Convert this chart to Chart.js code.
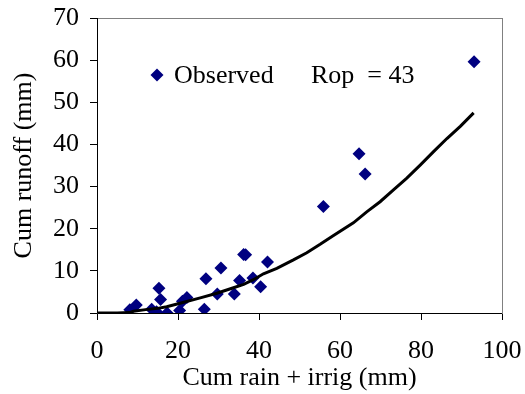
<!DOCTYPE html>
<html>
<head>
<meta charset="utf-8">
<script src="https://cdn.jsdelivr.net/npm/chart.js@4/dist/chart.umd.min.js"></script>
<style>
  html, body { margin: 0; padding: 0; background: #fff; }
  #wrap { width: 525px; height: 394px; }
</style>
</head>
<body>
<div id="wrap"><canvas id="graph_runoff" width="525" height="394"></canvas></div>
<script>
// observed : cum rain + irrig (mm) / cum runoff (mm)
const obsX = [8.1, 9.7, 13.5, 14.7, 15.3, 15.7, 17.3, 20.4, 21.1, 22.2, 26.5, 26.9, 29.7, 30.6, 33.9, 35.2, 36.2, 36.7, 38.5, 40.4, 42.1, 55.9, 64.7, 66.2, 93.1];
const obsY = [0.8, 1.9, 0.9, 0.3, 5.9, 3.2, 0.0, 0.6, 2.8, 3.7, 0.9, 8.1, 4.5, 10.7, 4.5, 7.7, 13.9, 13.8, 8.3, 6.2, 12.1, 25.3, 37.8, 33.0, 59.6];

// model curve (Rop = 43)
const modelX = [0, 5, 8, 9, 12, 15, 17.2, 20.5, 25.5, 29.6, 33.7, 36.2, 38.6, 41.1, 44.4, 48.5, 51.8, 55.1, 58.4, 63.3, 66.6, 69.9, 73.2, 76.5, 79.8, 83.1, 86.4, 89.7, 93.0];
const modelY = [0, 0, 0.1, 0.4, 0.8, 1.1, 1.5, 2.3, 3.6, 4.7, 6.0, 6.8, 7.9, 9.3, 10.6, 12.6, 14.3, 16.3, 18.4, 21.4, 24.0, 26.4, 29.2, 32.0, 35.1, 38.3, 41.4, 44.3, 47.5];

const xTicks = [0, 20, 40, 60, 80, 100];
const yTicks = [0, 10, 20, 30, 40, 50, 60, 70];

const serif = "'Liberation Serif', 'Times New Roman', serif";
const fontSize = 26;

const frame = {
    id: 'frame',
    afterDraw(chart) {
        const c = chart.ctx;
        const a = chart.chartArea;
        c.save();
        c.strokeStyle = '#808080';
        c.lineWidth = 1;
        c.strokeRect(a.left + 0.5, a.top + 0.5, a.right - a.left, a.bottom - a.top);
        c.strokeStyle = '#000';
        c.beginPath();
        c.moveTo(a.left + 0.5, a.top);
        c.lineTo(a.left + 0.5, a.bottom + 0.5);
        c.lineTo(a.right, a.bottom + 0.5);
        c.stroke();

        // legend inside plot
        c.fillStyle = '#000080';
        const lx = 157, ly = 75, r = 6.5;
        c.beginPath();
        c.moveTo(lx, ly - r);
        c.lineTo(lx + r, ly);
        c.lineTo(lx, ly + r);
        c.lineTo(lx - r, ly);
        c.closePath();
        c.fill();
        c.fillStyle = '#000';
        c.font = fontSize + 'px ' + serif;
        c.textBaseline = 'middle';
        c.fillText('Observed', 174, 76);
        c.fillText('Rop  = 43', 311, 76);
        c.restore();
    }
};

const ctx = document.getElementById('graph_runoff').getContext('2d');
const runoffChart = new Chart(ctx, {
    data: {
        datasets: [
            {
                type: 'scatter',
                label: 'Observed',
                data: obsX.map((x, i) => ({x: x, y: obsY[i]})),
                pointStyle: 'rectRot',
                pointRadius: 6.5,
                pointBackgroundColor: '#000080',
                pointBorderColor: '#000080',
                pointBorderWidth: 0,
                order: 1
            },
            {
                type: 'line',
                label: 'Rop = 43',
                data: modelX.map((x, i) => ({x: x, y: modelY[i]})),
                borderColor: '#000',
                borderWidth: 3,
                pointRadius: 0,
                tension: 0,
                fill: false,
                order: 0
            }
        ]
    },
    options: {
        responsive: false,
        animation: false,
        layout: { padding: 0 },
        plugins: {
            legend: { display: false },
            tooltip: { enabled: false }
        },
        scales: {
            x: {
                type: 'linear',
                min: 0,
                max: 100,
                afterBuildTicks: s => { s.ticks = xTicks.map(v => ({value: v})); },
                afterFit: s => { s.height = 81; s.paddingLeft = 0; s.paddingRight = 23; },
                grid: { drawOnChartArea: false, tickLength: 7, color: '#000', tickColor: '#000' },
                border: { display: false },
                ticks: { color: '#000', padding: 16, maxRotation: 0, font: { family: serif, size: fontSize } },
                title: { display: true, text: 'Cum rain + irrig (mm)', color: '#000', padding: { top: 0, bottom: 0 }, font: { family: serif, size: fontSize } }
            },
            y: {
                type: 'linear',
                min: 0,
                max: 70,
                afterBuildTicks: s => { s.ticks = yTicks.map(v => ({value: v})); },
                afterFit: s => { s.width = 97; s.paddingTop = 18; s.paddingBottom = 0; },
                grid: { drawOnChartArea: false, tickLength: 7, color: '#000', tickColor: '#000' },
                border: { display: false },
                ticks: { color: '#000', padding: 11, font: { family: serif, size: fontSize } },
                title: { display: true, text: 'Cum runoff (mm)', color: '#000', padding: { top: 9, bottom: 0 }, font: { family: serif, size: fontSize } }
            }
        }
    },
    plugins: [frame]
});
</script>
</body>
</html>
